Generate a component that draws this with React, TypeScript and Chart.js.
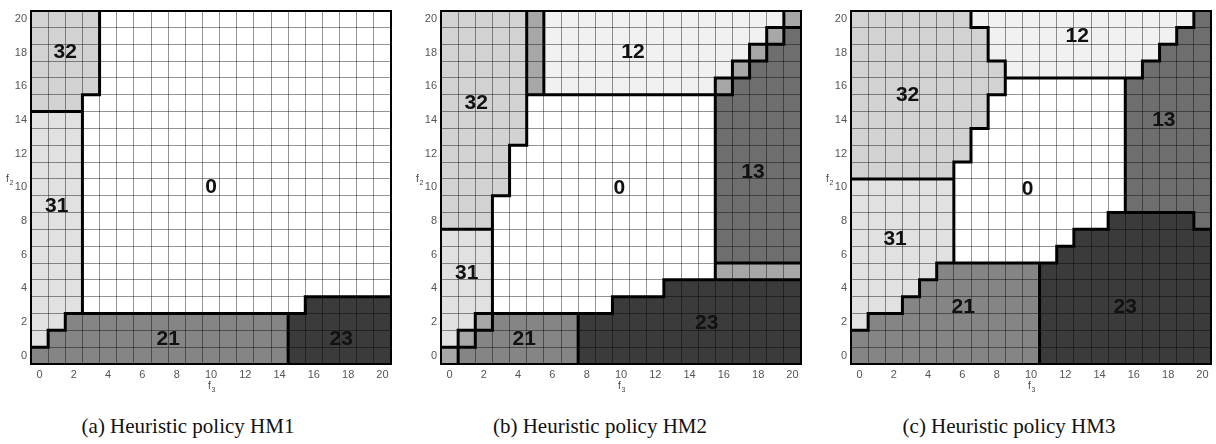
import React, { useEffect, useRef } from "react";
import { Chart, registerables } from "chart.js";

Chart.register(...registerables);

// ---------- data ----------
// axis tick labels (f3 horizontal, f2 vertical)
const f3TickValues = [0, 2, 4, 6, 8, 10, 12, 14, 16, 18, 20];
const f2TickValues = [0, 2, 4, 6, 8, 10, 12, 14, 16, 18, 20];
// cell boundaries (grid lines)
const cellEdgeValues = [
  -0.5, 0.5, 1.5, 2.5, 3.5, 4.5, 5.5, 6.5, 7.5, 8.5, 9.5, 10.5,
  11.5, 12.5, 13.5, 14.5, 15.5, 16.5, 17.5, 18.5, 19.5, 20.5,
];

// action class per letter: w=0, a=12, b=13, c=21, d=23, e=31, f=32, t=mixed
const classNames: Record<string, string> = {
  w: "0", a: "12", b: "13", c: "21", d: "23", e: "31", f: "32", t: "mixed",
};
const classColors: Record<string, string> = {
  w: "#ffffff", a: "#f1f1f1", b: "#6e6e6e", c: "#858585",
  d: "#3b3b3b", e: "#e1e1e1", f: "#d2d2d2", t: "#a7a7a7",
};

// rows are f2 = 20 (first) down to f2 = 0 (last); runs of (class, count) over f3 = 0..20
const hm1Rows = [
  "f4w17", "f4w17", "f4w17", "f4w17", "f4w17",
  "f3w18",
  "e3w18", "e3w18", "e3w18", "e3w18", "e3w18", "e3w18",
  "e3w18", "e3w18", "e3w18", "e3w18", "e3w18",
  "e3w13d5",
  "e2c13d6",
  "e1c14d6",
  "c15d6",
];
const hm2Rows = [
  "f5t1a14t1",
  "f5t1a13t1b1",
  "f5t1a12t1b2",
  "f5t1a11t1b3",
  "f5t1a10t1b4",
  "f5w11b5", "f5w11b5", "f5w11b5",
  "f4w12b5", "f4w12b5", "f4w12b5",
  "f3w13b5", "f3w13b5",
  "e3w13b5", "e3w13b5",
  "e3w13t5",
  "e3w10d8",
  "e3w7d11",
  "e2t1c5d13",
  "e1t1c6d13",
  "t1c7d13",
];
const hm3Rows = [
  "f7a13b1",
  "f8a11b2",
  "f8a10b3",
  "f9a8b4",
  "f9w7b5",
  "f8w8b5", "f8w8b5",
  "f7w9b5", "f7w9b5",
  "f6w10b5",
  "e6w10b5", "e6w10b5",
  "e6w9d5b1",
  "e6w7d8",
  "e6w6d9",
  "e5c6d10",
  "e4c7d10",
  "e3c8d10",
  "e1c10d10",
  "c11d10",
  "c11d10",
];

// region labels: [text, f3, f2]
const hm1Labels: [string, number, number][] = [
  ["32", 1.5, 18], ["31", 1.0, 8.9], ["0", 10, 10], ["21", 7.5, 1], ["23", 17.6, 1],
];
const hm2Labels: [string, number, number][] = [
  ["32", 1.55, 15], ["31", 1.0, 4.9], ["12", 10.7, 18], ["0", 9.9, 9.95],
  ["13", 17.7, 10.9], ["21", 4.35, 1], ["23", 15.0, 1.95],
];
const hm3Labels: [string, number, number][] = [
  ["12", 12.7, 18.95], ["32", 2.8, 15.5], ["13", 17.75, 14], ["0", 9.8, 9.9],
  ["31", 2.07, 6.9], ["21", 6.05, 2.9], ["23", 15.5, 2.9],
];

const captions = [
  "(a) Heuristic policy HM1",
  "(b) Heuristic policy HM2",
  "(c) Heuristic policy HM3",
];

// ---------- helpers ----------
function expandRow(spec: string): string[] {
  const out: string[] = [];
  const re = /([a-z])(\d+)/g;
  let m: RegExpExecArray | null;
  while ((m = re.exec(spec))) {
    for (let k = 0; k < parseInt(m[2], 10); k++) out.push(m[1]);
  }
  return out;
}

type Pt = { x: number; y: number | null };

function boundarySegments(grid: string[][]): Pt[] {
  const n = grid.length;
  const at = (i: number, f2: number) => grid[n - 1 - f2][i];
  const pts: Pt[] = [];
  for (let i = 0; i < n - 1; i++) {
    let start: number | null = null;
    for (let f2 = 0; f2 <= n; f2++) {
      const diff = f2 < n && at(i, f2) !== at(i + 1, f2);
      if (diff && start === null) start = f2;
      if (!diff && start !== null) {
        pts.push({ x: i + 0.5, y: start - 0.5 }, { x: i + 0.5, y: f2 - 0.5 }, { x: i + 0.5, y: null });
        start = null;
      }
    }
  }
  for (let f2 = 0; f2 < n - 1; f2++) {
    let start: number | null = null;
    for (let i = 0; i <= n; i++) {
      const diff = i < n && at(i, f2) !== at(i, f2 + 1);
      if (diff && start === null) start = i;
      if (!diff && start !== null) {
        pts.push({ x: start - 0.5, y: f2 + 0.5 }, { x: i - 0.5, y: f2 + 0.5 }, { x: i - 0.5, y: null });
        start = null;
      }
    }
  }
  return pts;
}

// ---------- panel ----------
function PolicyPanel({ rows, labels, left }: { rows: string[]; labels: [string, number, number][]; left: number }) {
  const ref = useRef<HTMLCanvasElement | null>(null);
  useEffect(() => {
    const canvas = ref.current;
    if (!canvas) return;
    const grid = rows.map(expandRow);
    const n = grid.length;

    const cellPlugin = {
      id: "cells",
      beforeDraw(chart: any) {
        const { ctx } = chart;
        const xs = chart.scales.x;
        const ys = chart.scales.y;
        ctx.save();
        for (let r = 0; r < n; r++) {
          const f2 = n - 1 - r;
          for (let i = 0; i < grid[r].length; i++) {
            const x0 = Math.round(xs.getPixelForValue(i - 0.5));
            const x1 = Math.round(xs.getPixelForValue(i + 0.5));
            const y0 = Math.round(ys.getPixelForValue(f2 + 0.5));
            const y1 = Math.round(ys.getPixelForValue(f2 - 0.5));
            ctx.fillStyle = classColors[grid[r][i]];
            ctx.fillRect(x0, y0, x1 - x0, y1 - y0);
          }
        }
        ctx.restore();
      },
      afterDraw(chart: any) {
        const { ctx, chartArea } = chart;
        const xs = chart.scales.x;
        const ys = chart.scales.y;
        ctx.save();
        ctx.fillStyle = "#111";
        ctx.font = "bold 21px Arial, 'Liberation Sans', sans-serif";
        ctx.textAlign = "center";
        ctx.textBaseline = "middle";
        for (const [t, fx, fy] of labels) {
          ctx.fillText(t, xs.getPixelForValue(fx), ys.getPixelForValue(fy));
        }
        // axis labels f3 / f2
        ctx.fillStyle = "#444";
        ctx.font = "10px Arial, 'Liberation Sans', sans-serif";
        ctx.textAlign = "left";
        ctx.textBaseline = "alphabetic";
        const cx = (chartArea.left + chartArea.right) / 2;
        ctx.fillText("f", cx - 3, chartArea.bottom + 25);
        ctx.font = "7px Arial, 'Liberation Sans', sans-serif";
        ctx.fillText("3", cx + 0.5, chartArea.bottom + 28);
        const fy = ys.getPixelForValue(10.5);
        ctx.font = "10px Arial, 'Liberation Sans', sans-serif";
        ctx.fillText("f", chartArea.left - 25, fy + 3);
        ctx.font = "7px Arial, 'Liberation Sans', sans-serif";
        ctx.fillText("2", chartArea.left - 21.5, fy + 6);
        ctx.restore();
      },
    };

    const tickFont = { family: "Arial, 'Liberation Sans', sans-serif", size: 11 };
    const chart = new Chart(canvas, {
      type: "line",
      data: {
        datasets: [
          {
            data: boundarySegments(grid) as any,
            borderColor: "#000",
            borderWidth: 3,
            borderCapStyle: "square",
            pointRadius: 0,
            pointHoverRadius: 0,
            spanGaps: false,
            fill: false,
            tension: 0,
          },
        ],
      },
      options: {
        animation: false,
        responsive: false,
        devicePixelRatio: 1,
        events: [],
        layout: { padding: { top: 5, right: 5, left: 0, bottom: 0 } },
        plugins: { legend: { display: false }, tooltip: { enabled: false } },
        scales: {
          x: {
            type: "linear",
            position: "bottom",
            min: -0.5,
            max: 20.5,
            afterBuildTicks: (s: any) => { s.ticks = f3TickValues.map((v) => ({ value: v })); },
            afterFit: (s: any) => { s.height = 36; },
            grid: { display: false, drawTicks: false },
            border: { display: true, color: "#000", width: 2 },
            ticks: { color: "#555", font: tickFont, padding: 4, maxRotation: 0, autoSkip: false },
          },
          y: {
            type: "linear",
            position: "left",
            min: -0.5,
            max: 20.5,
            afterBuildTicks: (s: any) => { s.ticks = f2TickValues.map((v) => ({ value: v })); },
            afterFit: (s: any) => { s.width = 31; },
            grid: { display: false, drawTicks: false },
            border: { display: true, color: "#000", width: 2 },
            ticks: { color: "#555", font: tickFont, padding: 4, autoSkip: false },
          },
          xg: {
            type: "linear",
            position: "top",
            min: -0.5,
            max: 20.5,
            afterBuildTicks: (s: any) => { s.ticks = cellEdgeValues.map((v) => ({ value: v })); },
            afterFit: (s: any) => { s.height = 0; },
            grid: { display: true, drawTicks: false, color: "rgba(0,0,0,0.42)", lineWidth: 1 },
            border: { display: true, color: "#000", width: 2 },
            ticks: { display: false },
          },
          yg: {
            type: "linear",
            position: "right",
            min: -0.5,
            max: 20.5,
            afterBuildTicks: (s: any) => { s.ticks = cellEdgeValues.map((v) => ({ value: v })); },
            afterFit: (s: any) => { s.width = 0; },
            grid: { display: true, drawTicks: false, color: "rgba(0,0,0,0.42)", lineWidth: 1 },
            border: { display: true, color: "#000", width: 2 },
            ticks: { display: false },
          },
        },
      } as any,
      plugins: [cellPlugin],
    });
    return () => chart.destroy();
  }, [rows, labels]);

  return (
    <canvas
      ref={ref}
      width={396}
      height={400}
      style={{ position: "absolute", left, top: 0, width: 396, height: 400 }}
    />
  );
}

const panelRows = [hm1Rows, hm2Rows, hm3Rows];
const panelLabels = [hm1Labels, hm2Labels, hm3Labels];
const panelLefts = [0, 410, 820];
const captionCenters = [188, 600, 1009];

export default function App() {
  return (
    <div style={{ position: "absolute", left: 0, top: 0, width: 1216, height: 444, overflow: "hidden", background: "#fff" }}>
      {panelRows.map((rows, k) => (
        <PolicyPanel key={k} rows={rows} labels={panelLabels[k]} left={panelLefts[k]} />
      ))}
      {captions.map((c, k) => (
        <div
          key={"c" + k}
          style={{
            position: "absolute",
            left: captionCenters[k] - 200,
            width: 400,
            top: 413,
            textAlign: "center",
            fontFamily: "'Liberation Serif', 'Times New Roman', serif",
            fontSize: 21,
            lineHeight: "26px",
            color: "#111",
            whiteSpace: "nowrap",
          }}
        >
          {c}
        </div>
      ))}
    </div>
  );
}
